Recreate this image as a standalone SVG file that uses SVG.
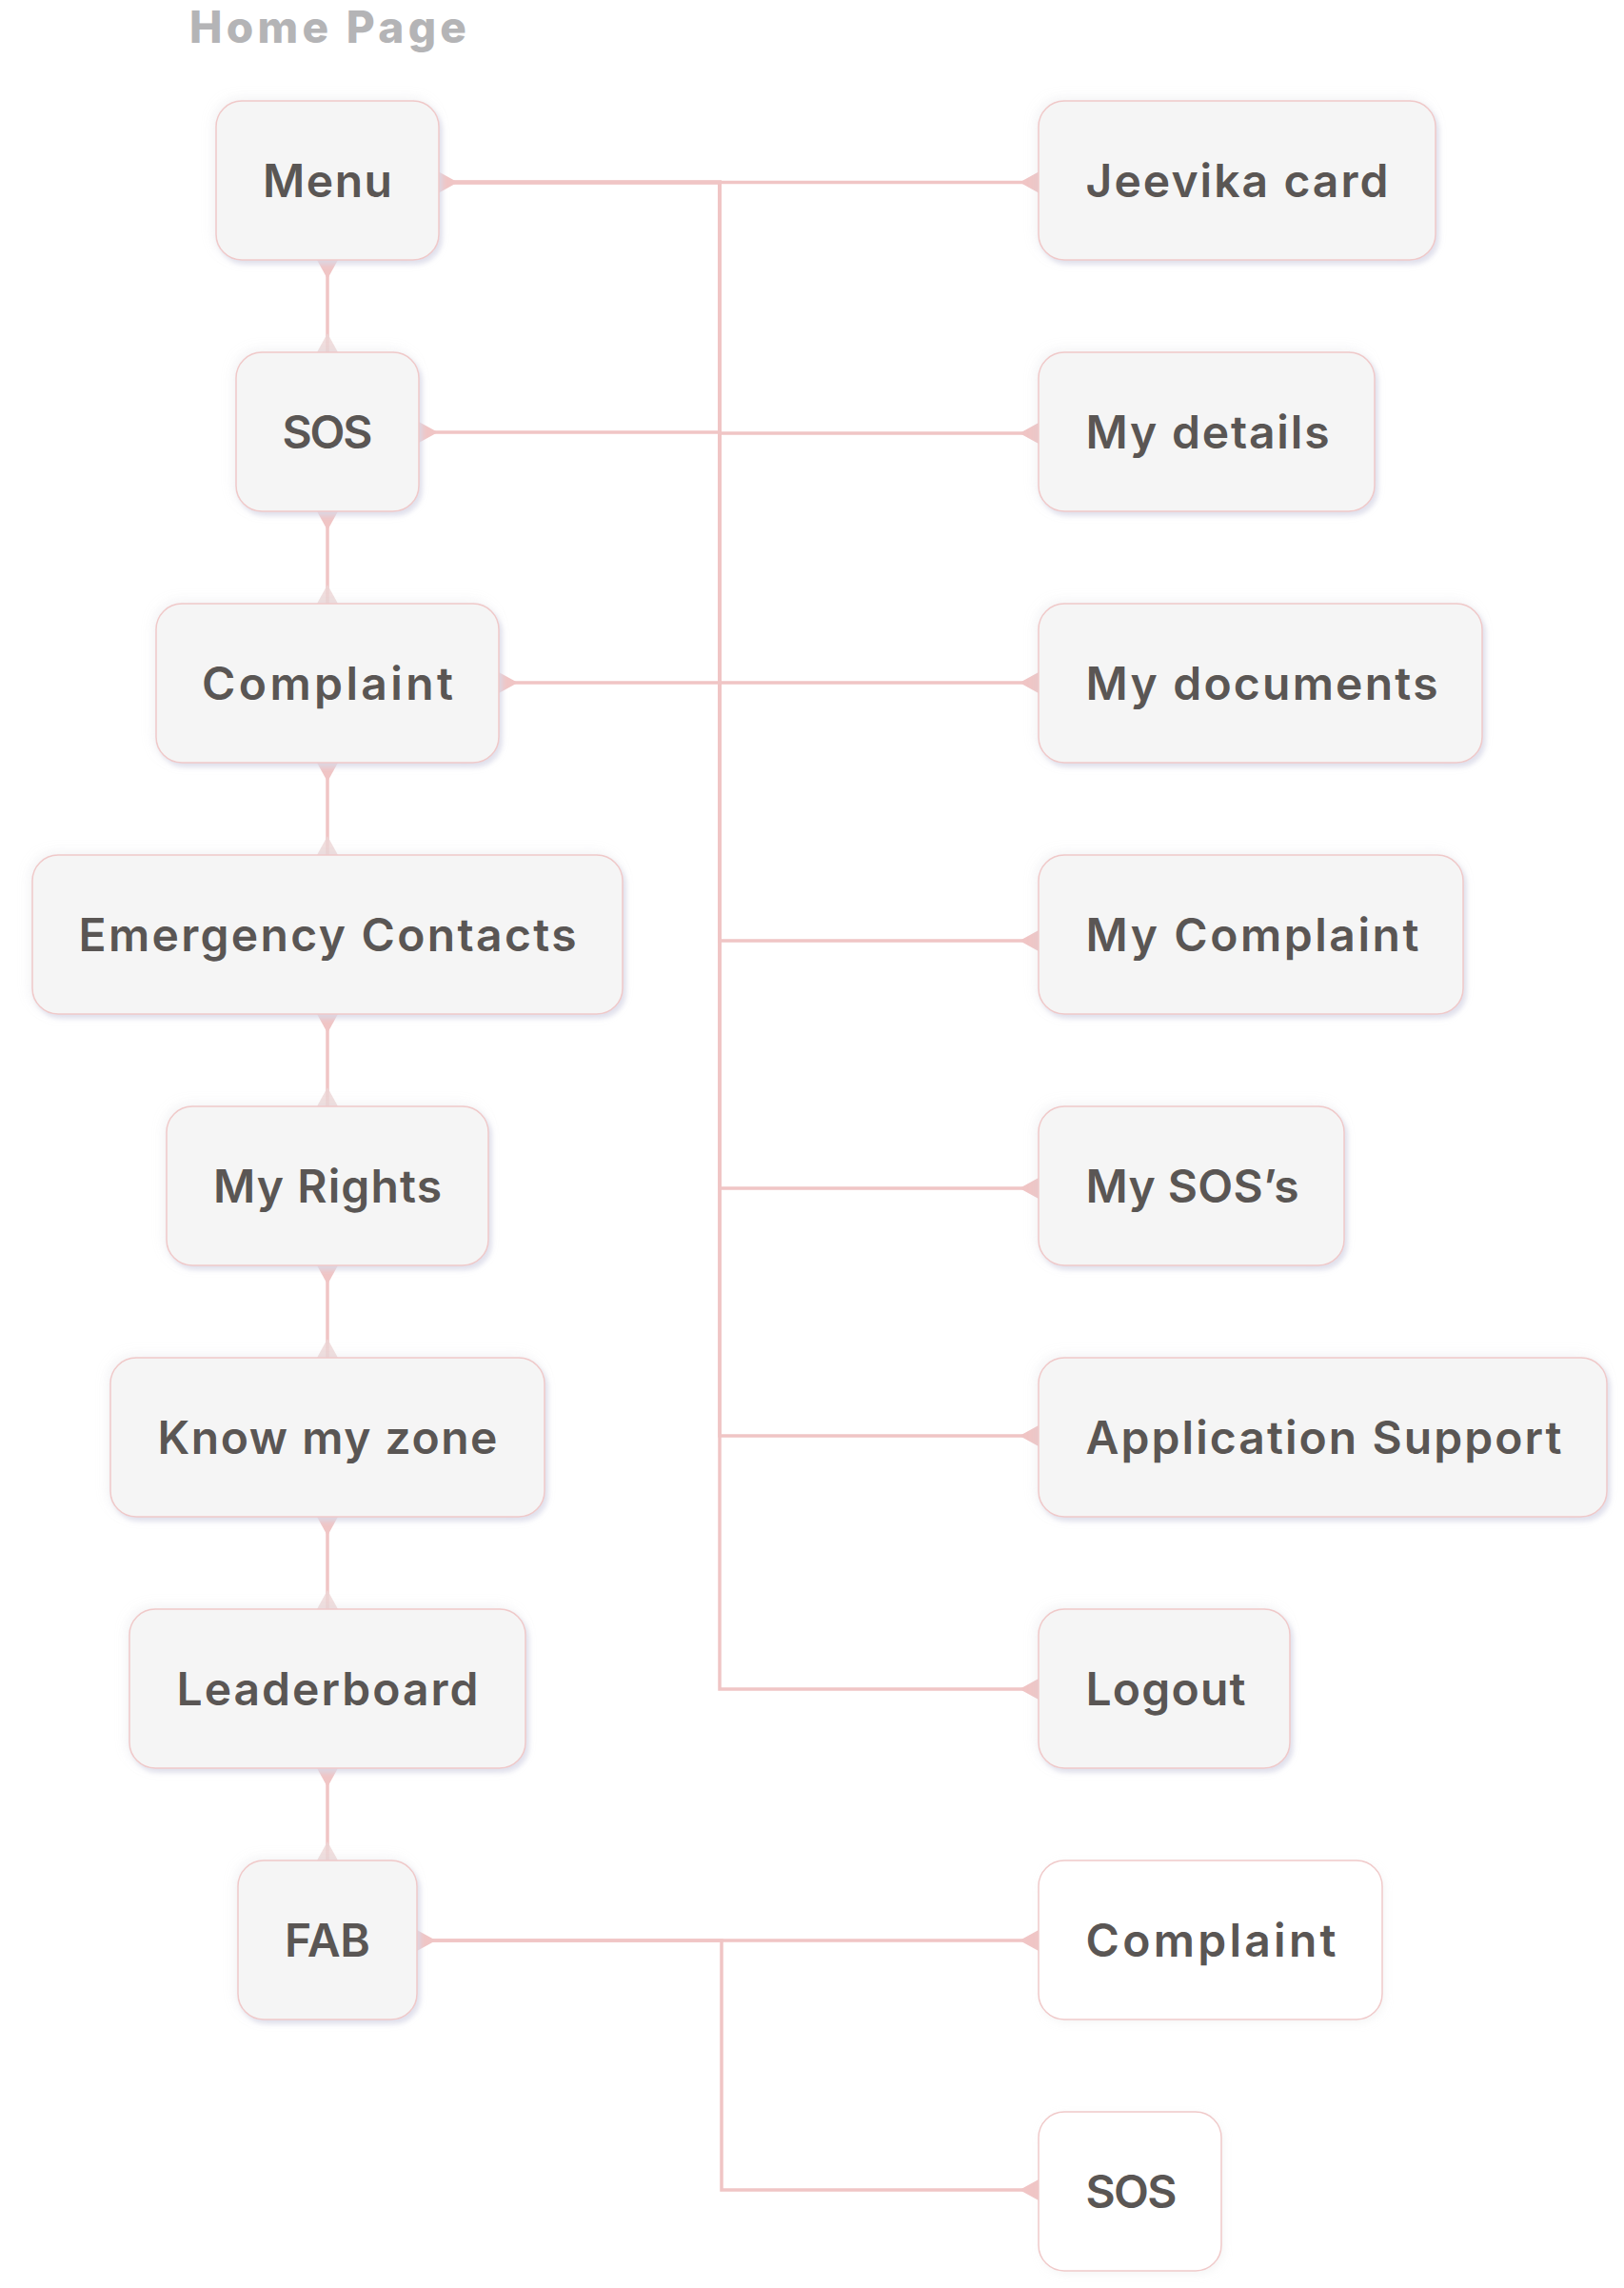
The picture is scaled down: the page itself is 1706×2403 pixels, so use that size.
<svg xmlns="http://www.w3.org/2000/svg" width="1706" height="2403" viewBox="0 0 1706 2403">
<style>
.bg{fill:#ffffff}
.box{fill:#f5f5f5;stroke:#f0c9c9;stroke-width:1.5;filter:url(#sh)}
.wbox{fill:#ffffff;stroke:#f0caca;stroke-width:1.5;filter:url(#shw)}
.lbl{font-family:Inter,"Noto Sans","Liberation Sans",sans-serif;font-weight:600;font-size:48px;fill:#5a5654}
.title{font-family:Inter,"Noto Sans","Liberation Sans",sans-serif;font-weight:800;font-size:46px;fill:#b4b4b6}
.con{fill:none;stroke:#f0c5c5;stroke-width:3.5}
</style>
<defs>
<filter id="sh" x="-15%" y="-25%" width="135%" height="160%">
<feDropShadow dx="-3" dy="-3" stdDeviation="6" flood-color="#d0d0d0" flood-opacity="0.18"/>
<feDropShadow dx="3" dy="4" stdDeviation="2.5" flood-color="#d9d9e8" flood-opacity="0.8"/>
</filter>
<filter id="shw" x="-15%" y="-25%" width="135%" height="160%">
<feDropShadow dx="2" dy="3" stdDeviation="4" flood-color="#d8d8d8" flood-opacity="0.25"/>
</filter>
<marker id="tS" markerUnits="userSpaceOnUse" markerWidth="24" markerHeight="24" viewBox="-2 -12 24 24" refX="0" refY="0" orient="auto">
<path d="M0,-11 L20,0 L0,11 Z" fill="#f0c5c5"/>
</marker>
<marker id="tE" markerUnits="userSpaceOnUse" markerWidth="24" markerHeight="24" viewBox="-22 -12 24 24" refX="0" refY="0" orient="auto">
<path d="M0,-11 L-20,0 L0,11 Z" fill="#f0c5c5"/>
</marker>
<marker id="tF" markerUnits="userSpaceOnUse" markerWidth="24" markerHeight="24" viewBox="-22 -12 24 24" refX="0" refY="0" orient="auto">
<path d="M0,-11 L-20,0 L0,11 Z" fill="#ecd6d6" fill-opacity="0.8"/>
</marker>
</defs>
<rect class="bg" x="0" y="0" width="1706" height="2403"/>
<text class="title" x="199" y="45" textLength="291">Home Page</text>

<g id="connectors">
<path class="con" d="M344,273 V370" marker-start="url(#tS)" marker-end="url(#tF)"/>
<path class="con" d="M344,537 V634" marker-start="url(#tS)" marker-end="url(#tF)"/>
<path class="con" d="M344,801 V898" marker-start="url(#tS)" marker-end="url(#tF)"/>
<path class="con" d="M344,1065 V1162" marker-start="url(#tS)" marker-end="url(#tF)"/>
<path class="con" d="M344,1329 V1426" marker-start="url(#tS)" marker-end="url(#tF)"/>
<path class="con" d="M344,1593 V1690" marker-start="url(#tS)" marker-end="url(#tF)"/>
<path class="con" d="M344,1857 V1954" marker-start="url(#tS)" marker-end="url(#tF)"/>

<path class="con" d="M461,191.5 H1091" marker-start="url(#tS)" marker-end="url(#tE)"/>
<path class="con" d="M461,191.5 H756 V455 H1091" marker-end="url(#tE)"/>
<path class="con" d="M461,191.5 H756 V717 H1091" marker-end="url(#tE)"/>
<path class="con" d="M461,191.5 H756 V988 H1091" marker-end="url(#tE)"/>
<path class="con" d="M461,191.5 H756 V1248 H1091" marker-end="url(#tE)"/>
<path class="con" d="M461,191.5 H756 V1508 H1091" marker-end="url(#tE)"/>
<path class="con" d="M461,191.5 H756 V1774 H1091" marker-end="url(#tE)"/>
<path class="con" d="M440,454 H756" marker-start="url(#tS)"/>
<path class="con" d="M524,717 H756" marker-start="url(#tS)"/>

<path class="con" d="M438,2038 H1091" marker-start="url(#tS)" marker-end="url(#tE)"/>
<path class="con" d="M438,2038 H758 V2300 H1091" marker-end="url(#tE)"/>
</g>

<g id="node-menu"><rect class="box" x="227" y="106" width="234" height="167" rx="27"/><text class="lbl" x="276" y="207" textLength="136">Menu</text></g>
<g id="node-sos"><rect class="box" x="248" y="370" width="192" height="167" rx="27"/><text class="lbl" x="296.5" y="471" textLength="95">SOS</text></g>
<g id="node-complaint"><rect class="box" x="164" y="634" width="360" height="167" rx="27"/><text class="lbl" x="212" y="735" textLength="264">Complaint</text></g>
<g id="node-emergency"><rect class="box" x="34" y="898" width="620" height="167" rx="27"/><text class="lbl" x="82.5" y="999" textLength="523">Emergency Contacts</text></g>
<g id="node-rights"><rect class="box" x="175" y="1162" width="338" height="167" rx="27"/><text class="lbl" x="224" y="1263" textLength="240">My Rights</text></g>
<g id="node-zone"><rect class="box" x="116" y="1426" width="456" height="167" rx="27"/><text class="lbl" x="165.5" y="1527" textLength="357">Know my zone</text></g>
<g id="node-leaderboard"><rect class="box" x="136" y="1690" width="416" height="167" rx="27"/><text class="lbl" x="185.5" y="1791" textLength="317">Leaderboard</text></g>
<g id="node-fab"><rect class="box" x="250" y="1954" width="188" height="167" rx="27"/><text class="lbl" x="299" y="2055" textLength="90">FAB</text></g>

<g id="node-jeevika"><rect class="box" x="1091" y="106" width="417" height="167" rx="27"/><text class="lbl" x="1140.5" y="207" textLength="318">Jeevika card</text></g>
<g id="node-details"><rect class="box" x="1091" y="370" width="353" height="167" rx="27"/><text class="lbl" x="1140.5" y="471" textLength="256">My details</text></g>
<g id="node-documents"><rect class="box" x="1091" y="634" width="466" height="167" rx="27"/><text class="lbl" x="1140.5" y="735" textLength="370">My documents</text></g>
<g id="node-mycomplaint"><rect class="box" x="1091" y="898" width="446" height="167" rx="27"/><text class="lbl" x="1140.5" y="999" textLength="350">My Complaint</text></g>
<g id="node-mysos"><rect class="box" x="1091" y="1162" width="321" height="167" rx="27"/><text class="lbl" x="1140.5" y="1263" textLength="224">My SOS’s</text></g>
<g id="node-support"><rect class="box" x="1091" y="1426" width="597" height="167" rx="27"/><text class="lbl" x="1140.5" y="1527" textLength="500">Application Support</text></g>
<g id="node-logout"><rect class="box" x="1091" y="1690" width="264" height="167" rx="27"/><text class="lbl" x="1140.5" y="1791" textLength="168">Logout</text></g>
<g id="node-fab-complaint"><rect class="wbox" x="1091" y="1954" width="361" height="167" rx="27"/><text class="lbl" x="1140.5" y="2055" textLength="263">Complaint</text></g>
<g id="node-fab-sos"><rect class="wbox" x="1091" y="2218" width="192" height="167" rx="27"/><text class="lbl" x="1140.5" y="2319" textLength="96">SOS</text></g>
</svg>
